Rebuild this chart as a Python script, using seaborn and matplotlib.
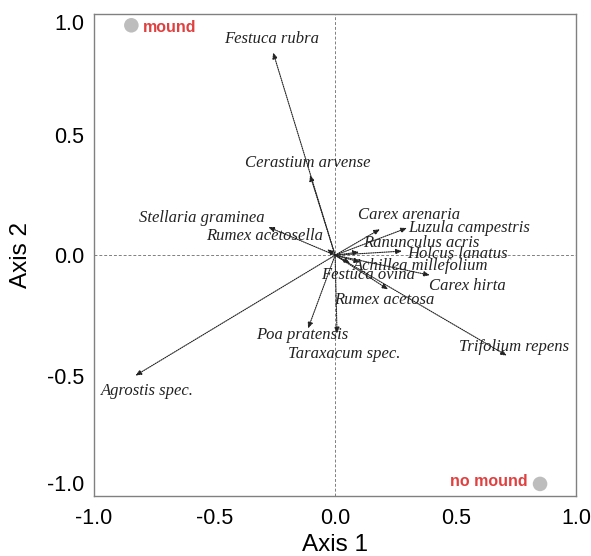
import pandas as pd
import matplotlib.pyplot as plt
import seaborn as sns
import numpy as np

# Biplot das espécies (setas) e das amostras mound / no mound

species = ['Festuca rubra', 'Cerastium arvense', 'Stellaria graminea', 'Rumex acetosella',
           'Carex arenaria', 'Luzula campestris', 'Ranunculus acris', 'Holcus lanatus',
           'Achillea millefolium', 'Festuca ovina', 'Carex hirta', 'Rumex acetosa',
           'Trifolium repens', 'Poa pratensis', 'Taraxacum spec.', 'Agrostis spec.']
axis1 = [-0.257, -0.104, -0.277, -0.033, 0.186, 0.298, 0.099, 0.277,
         0.104, 0.062, 0.393, 0.220, 0.712, -0.112, 0.008, -0.828]
axis2 = [0.842, 0.333, 0.117, 0.025, 0.108, 0.113, 0.013, 0.017,
         -0.029, -0.033, -0.083, -0.142, -0.417, -0.304, -0.325, -0.500]

groups = ['mound', 'no mound']
group_x = [-0.845, 0.85]
group_y = [0.955, -0.95]

ticks = [-1.0, -0.5, 0.0, 0.5, 1.0]

# Deslocamento dos rótulos (pixels) em relação à ponta da seta
offsets = {'Festuca rubra': (-2, 13), 'Cerastium arvense': (-2, 12),
           'Stellaria graminea': (-66, 9), 'Rumex acetosella': (-63, 13),
           'Carex arenaria': (29, 14), 'Luzula campestris': (62, 0),
           'Ranunculus acris': (62, 9), 'Holcus lanatus': (56, -3),
           'Achillea millefolium': (60, -4), 'Festuca ovina': (18, -12),
           'Carex hirta': (38, -11), 'Rumex acetosa': (-4, -11),
           'Trifolium repens': (7, 9), 'Poa pratensis': (-6, -7),
           'Taraxacum spec.': (7, -21), 'Agrostis spec.': (12, -15)}

sns.set_style('white')
plt.rcParams['font.family'] = ['Liberation Sans', 'DejaVu Sans']

fig = plt.figure(figsize=(5.91, 5.56), dpi=100)
ax = fig.add_axes([0.159, 0.108, 0.816, 0.866])

# Linhas de referência
ax.axhline(0, color='gray', lw=0.7, ls=(0, (3, 2)), zorder=0)
ax.axvline(0, color='gray', lw=0.7, ls=(0, (3, 2)), zorder=0)

# Setas das espécies
for sp, x, y in zip(species, axis1, axis2):
    ax.annotate('', xy=(x, y), xytext=(0, 0),
                arrowprops=dict(arrowstyle='-|>,head_length=0.35,head_width=0.15',
                                color='#222222', lw=0.8, linestyle=(0, (1, 1)),
                                shrinkA=0, shrinkB=0))
    dx, dy = offsets[sp]
    ax.annotate(sp, xy=(x, y), xytext=(dx, dy), textcoords='offset pixels',
                ha='center', va='center', fontsize=12, style='italic',
                family='Liberation Serif', color='#222222')

# Pontos das amostras
dt = pd.DataFrame({'x': group_x, 'y': group_y, 'group': groups})
sns.scatterplot(data=dt, x='x', y='y', color='#bdbdbd', s=110, edgecolor='none',
                ax=ax, zorder=3, legend=False)
ax.annotate(groups[0], xy=(group_x[0], group_y[0]), xytext=(12, -2),
            textcoords='offset pixels', ha='left', va='center',
            fontsize=11.5, fontweight='bold', color='#e0403f')
ax.annotate(groups[1], xy=(group_x[1], group_y[1]), xytext=(-12, 2),
            textcoords='offset pixels', ha='right', va='center',
            fontsize=11.5, fontweight='bold', color='#e0403f')

# Formatação
ax.set_xlim(-1, 1)
ax.set_ylim(-1, 1)
ax.set_xticks(ticks)
ax.set_yticks(ticks)
ax.set_xticklabels([f'{t:.1f}' for t in ticks])
ax.set_yticklabels([f'{t:.1f}' for t in ticks])
ax.tick_params(direction='out', length=3, width=0.8, color='gray',
               labelsize=15.5, labelcolor='black')
ax.tick_params(axis='x', pad=6)
ax.tick_params(axis='y', pad=4)
ylabs = ax.get_yticklabels()
ylabs[0].set_va('bottom')
ylabs[-1].set_va('top')
for s in ax.spines.values():
    s.set_color('gray')
    s.set_linewidth(1.0)
ax.set_xlabel('Axis 1', fontsize=17.5, labelpad=3, color='black')
ax.set_ylabel('Axis 2', fontsize=17.5, labelpad=11, color='black')

plt.savefig('out.png', dpi=100)
plt.close()
